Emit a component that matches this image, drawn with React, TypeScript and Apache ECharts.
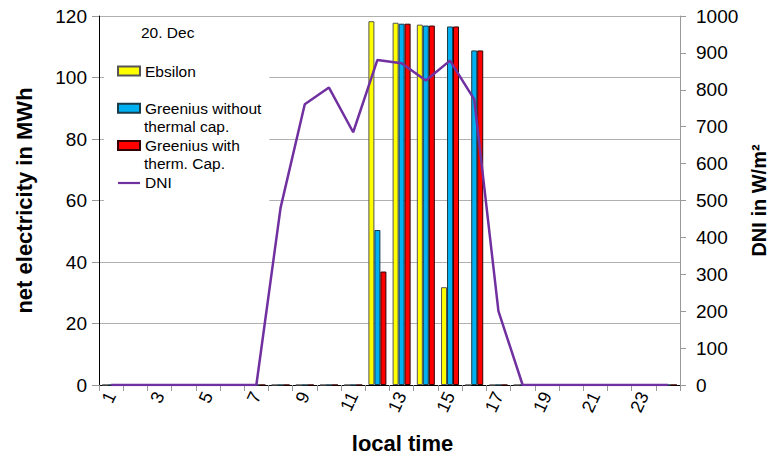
import React, { useEffect, useRef } from "react";
import * as echarts from "echarts";

const hours = ["1","2","3","4","5","6","7","8","9","10","11","12","13","14","15","16","17","18","19","20","21","22","23","24"];
const ebsilon = [0,0,0,0,0,0,0,0,0,0,0,118.3,117.8,117.2,31.8,0,0,0,0,0,0,0,0,0];
const greeniusWithout = [0,0,0,0,0,0,0,0,0,0,0,50.4,117.5,116.9,116.6,108.8,0,0,0,0,0,0,0,0];
const greeniusWith = [0,0,0,0,0,0,0,0,0,0,0,36.9,117.5,116.9,116.6,108.8,0,0,0,0,0,0,0,0];
const dni = [0,0,0,0,0,0,0,480,761,806,685,881,872,825,879,774,200,0,0,0,0,0,0,0];

const seriesNames = ["Ebsilon", "Greenius without thermal cap.", "Greenius with therm. Cap.", "DNI"];
const legendFirstLine: Record<string, string> = {
  "Ebsilon": "Ebsilon",
  "Greenius without thermal cap.": "Greenius without",
  "Greenius with therm. Cap.": "Greenius with",
  "DNI": "DNI",
};
const legendSecondLines = ["thermal cap.", "therm. Cap."];
const dateLabel = "20. Dec";

const FONT = "'Liberation Sans', Arial, sans-serif";

export default function App() {
  const ref = useRef<HTMLDivElement>(null);
  useEffect(() => {
    if (!ref.current) return;
    const chart = echarts.init(ref.current, null, { renderer: "svg" });
    const barBase = {
      type: "bar",
      barWidth: 6,
      barGap: "0%",
      yAxisIndex: 0,
    };
    chart.setOption({
      animation: false,
      backgroundColor: "#ffffff",
      textStyle: { fontFamily: FONT },
      grid: { left: 99, right: 89, top: 16, bottom: 74, containLabel: false, outerBoundsMode: "none" },
      legend: {
        orient: "vertical",
        left: 104,
        top: 20,
        padding: [42, 8, 14, 13],
        itemGap: 19.3,
        itemWidth: 22,
        itemHeight: 9,
        backgroundColor: "#ffffff",
        formatter: (name: string) => legendFirstLine[name] || name,
        textStyle: { fontFamily: FONT, fontSize: 15.5, color: "#000", lineHeight: 18 },
        data: [
          { name: seriesNames[0], icon: "rect" },
          { name: seriesNames[1], icon: "rect" },
          { name: seriesNames[2], icon: "rect" },
          {
            name: seriesNames[3],
            icon: "path://M0,0M22,9M0,3.5H22V5.7H0Z",
            itemStyle: { color: "#7030a0", borderWidth: 0 },
          },
        ],
      },
      graphic: [
        { type: "text", left: 141, top: 24, z: 10, style: { text: dateLabel, font: `15.5px ${FONT}`, fill: "#000" } },
        { type: "text", left: 144, top: 118, z: 10, style: { text: legendSecondLines[0], font: `15.5px ${FONT}`, fill: "#000" } },
        { type: "text", left: 144, top: 155, z: 10, style: { text: legendSecondLines[1], font: `15.5px ${FONT}`, fill: "#000" } },
      ],
      xAxis: {
        type: "category",
        data: hours,
        boundaryGap: true,
        name: "local time",
        nameLocation: "middle",
        nameGap: 47,
        nameTextStyle: { fontFamily: FONT, fontSize: 22, fontWeight: "bold", color: "#000", verticalAlign: "top", padding: [0, 0, 0, 26] },
        axisLine: { lineStyle: { color: "#000", width: 1 } },
        axisTick: { show: true, interval: 0, length: 6, lineStyle: { color: "#999" } },
        axisLabel: { interval: 1, rotate: 65, margin: 8, fontSize: 18, color: "#000", fontFamily: FONT },
        splitLine: { show: false },
      },
      yAxis: [
        {
          type: "value",
          min: 0,
          max: 120,
          interval: 20,
          name: "net electricity in MWh",
          nameLocation: "middle",
          nameRotate: 90,
          nameGap: 64,
          nameTextStyle: { fontFamily: FONT, fontSize: 22, fontWeight: "bold", color: "#000" },
          axisLine: { show: true, lineStyle: { color: "#000", width: 1 } },
          axisTick: { show: true, length: 7, lineStyle: { color: "#999" } },
          axisLabel: { fontSize: 19, color: "#000", margin: 12, fontFamily: FONT },
          splitLine: { show: true, lineStyle: { color: "#b0b0b0", width: 1 } },
        },
        {
          type: "value",
          min: 0,
          max: 1000,
          interval: 100,
          position: "right",
          name: "DNI in W/m²",
          nameLocation: "middle",
          nameRotate: 90,
          nameGap: 57,
          nameTextStyle: { fontFamily: FONT, fontSize: 20, fontWeight: "bold", color: "#000" },
          axisLine: { show: true, lineStyle: { color: "#999", width: 1 } },
          axisTick: { show: true, length: 6, lineStyle: { color: "#999" } },
          axisLabel: { fontSize: 19, color: "#000", margin: 16, fontFamily: FONT, formatter: (v: number) => String(v) },
          splitLine: { show: false },
        },
      ],
      series: [
        { ...barBase, name: seriesNames[0], data: ebsilon, itemStyle: { color: "#ffff00", borderColor: "#555", borderWidth: 1 } },
        { ...barBase, name: seriesNames[1], data: greeniusWithout, itemStyle: { color: "#00b0f0", borderColor: "#1a3b4a", borderWidth: 1 } },
        { ...barBase, name: seriesNames[2], data: greeniusWith, itemStyle: { color: "#ff0000", borderColor: "#300", borderWidth: 1 } },
        {
          type: "line",
          name: seriesNames[3],
          yAxisIndex: 1,
          data: dni,
          symbol: "none",
          showSymbol: false,
          z: 5,
          lineStyle: { color: "#7030a0", width: 2.5 },
          itemStyle: { color: "#7030a0" },
        },
      ],
    });
    return () => chart.dispose();
  }, []);
  return <div ref={ref} style={{ width: 769, height: 459, position: "absolute", left: 0, top: 0 }} />;
}
